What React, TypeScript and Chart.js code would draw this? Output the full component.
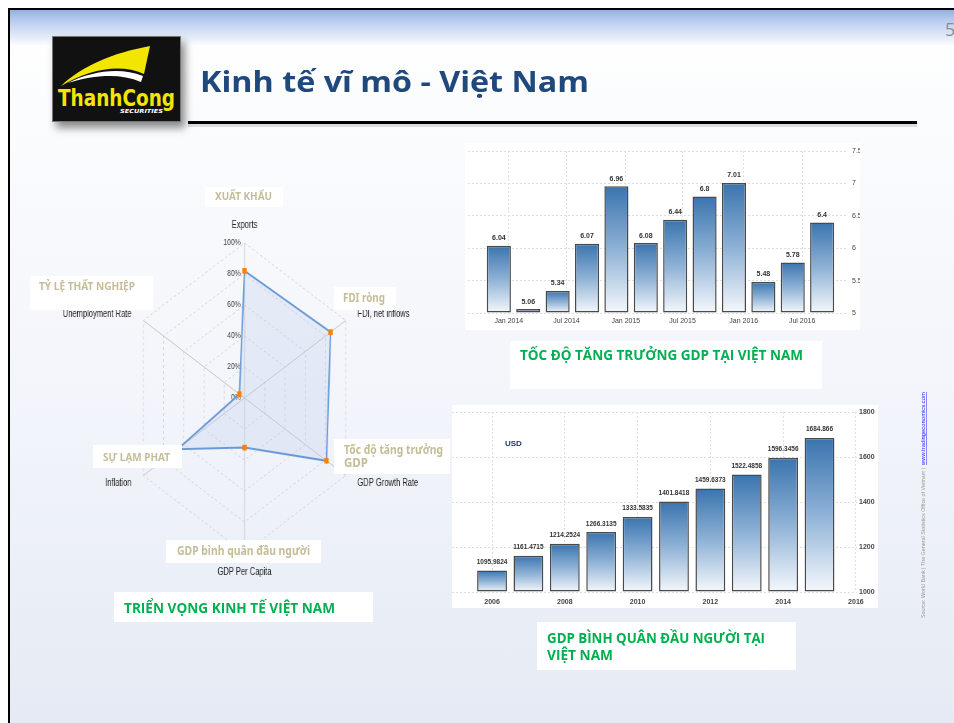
import React, { useEffect, useRef } from 'react';
import { Chart, registerables } from 'chart.js';
Chart.register(...registerables);

// ---- GDP growth (quarterly, %) ----
const growthQuarters = ['Q4 2013', 'Q1 2014', 'Q2 2014', 'Q3 2014', 'Q4 2014', 'Q1 2015', 'Q2 2015', 'Q3 2015', 'Q4 2015', 'Q1 2016', 'Q2 2016', 'Q3 2016'];
const growthValues = [6.04, 5.06, 5.34, 6.07, 6.96, 6.08, 6.44, 6.8, 7.01, 5.48, 5.78, 6.4];
const growthTickValues = [0.34, 2.3, 4.32, 6.25, 8.33, 10.32];
const growthTickLabels = ['Jan 2014', 'Jul 2014', 'Jan 2015', 'Jul 2015', 'Jan 2016', 'Jul 2016'];
const growthYTicks = [5, 5.5, 6, 6.5, 7, 7.5];

// ---- GDP per capita (USD) ----
const capitaYears = ['2006', '2007', '2008', '2009', '2010', '2011', '2012', '2013', '2014', '2015'];
const capitaValues = [1095.9824, 1161.4715, 1214.2524, 1266.3135, 1333.5835, 1401.8418, 1459.6373, 1522.4858, 1596.3456, 1684.866];
const capitaTickValues = [0, 2, 4, 6, 8, 10];
const capitaTickLabels = ['2006', '2008', '2010', '2012', '2014', '2016'];
const capitaYTicks = [1000, 1200, 1400, 1600, 1800];

// ---- Radar (outlook, %) ----
const radarAxes = ['Exports', 'FDI, net inflows', 'GDP Growth Rate', 'GDP Per Capita', 'Inflation', 'Unemployment Rate'];
const radarValues = [82, 85, 81, 32, 66, 5];
const radarTicks = [0, 20, 40, 60, 80, 100];

const makeFill = (baseValue: number) => (ctx: any) => {
  const chart = ctx.chart;
  const ys = chart.scales && chart.scales.y;
  if (!ys || !ctx.parsed) return '#4a82bb';
  const top = ys.getPixelForValue(ctx.parsed.y);
  const bottom = ys.getPixelForValue(baseValue);
  if (!isFinite(top) || !isFinite(bottom) || bottom - top < 1) return '#5a8cc0';
  const g = chart.ctx.createLinearGradient(0, top, 0, bottom);
  g.addColorStop(0, '#3a74ae');
  g.addColorStop(0.5, '#8fb2d6');
  g.addColorStop(1, '#f5f8fc');
  return g;
};

const valueLabels = {
  id: 'valueLabels',
  afterDatasetsDraw(chart: any, _args: any, opts: any) {
    const { ctx } = chart;
    const meta = chart.getDatasetMeta(0);
    const data = chart.data.datasets[0].data;
    ctx.save();
    ctx.font = opts.font;
    ctx.fillStyle = opts.color;
    ctx.textAlign = 'center';
    ctx.textBaseline = 'bottom';
    meta.data.forEach((el: any, i: number) => {
      const d = data[i];
      const v = typeof d === 'object' ? d.y : d;
      ctx.fillText(String(v), el.x, el.y - opts.offset);
    });
    ctx.restore();
  },
};

const radarText = {
  id: 'radarText',
  beforeDatasetsDraw(chart: any) {
    const r = chart.scales.r;
    const ctx = chart.ctx;
    ctx.save();
    ctx.font = '9px "Liberation Sans", Arial, sans-serif';
    ctx.fillStyle = '#444';
    ctx.textAlign = 'right';
    ctx.textBaseline = 'middle';
    radarTicks.forEach((v) => {
      const p = r.getPointPositionForValue(0, v);
      ctx.fillText(v + '%', p.x - 5, p.y);
    });
    ctx.restore();
  },
  afterDraw(chart: any) {
    const r = chart.scales.r;
    const ctx = chart.ctx;
    const aligns = ['center', 'left', 'left', 'center', 'right', 'right'];
    const dy = [0, 3, -1, 1, -1, 3];
    ctx.save();
    ctx.font = '10px "Liberation Sans", Arial, sans-serif';
    ctx.fillStyle = '#222';
    ctx.textBaseline = 'middle';
    chart.data.labels.forEach((lab: string, i: number) => {
      const p = r.getPointPosition(i, r.drawingArea + 18);
      ctx.textAlign = aligns[i];
      ctx.fillText(lab, p.x, p.y + dy[i]);
    });
    ctx.restore();
  },
};

function barChartConfig(opts: {
  values: number[];
  labels: string[];
  base: number;
  xMin: number;
  xMax: number;
  xTicks: number[];
  xTickLabels: string[];
  yTicks: number[];
  padTop: number;
  padLeft: number;
  yWidth: number;
  xHeight: number;
  xFont: any;
  yFont: any;
  xPad: number;
  yPad: number;
  labelFont: string;
  labelOffset: number;
}): any {
  const yMin = opts.yTicks[0];
  const yMax = opts.yTicks[opts.yTicks.length - 1];
  return {
    type: 'bar',
    data: {
      labels: opts.labels,
      datasets: [
        {
          data: opts.values.map((v, i) => ({ x: i, y: v })),
          base: opts.base,
          backgroundColor: makeFill(opts.base),
          borderColor: '#4a4a4a',
          borderWidth: 1.5,
          borderSkipped: false,
          categoryPercentage: 1,
          barPercentage: 0.82,
          clip: 4,
        },
      ],
    },
    options: {
      responsive: false,
      animation: false,
      maintainAspectRatio: false,
      layout: { padding: { top: opts.padTop, left: opts.padLeft, right: 0, bottom: 0 } },
      plugins: {
        legend: { display: false },
        tooltip: { enabled: false },
        valueLabels: { font: opts.labelFont, color: '#333', offset: opts.labelOffset },
      },
      scales: {
        x: {
          type: 'linear',
          min: opts.xMin,
          max: opts.xMax,
          offset: false,
          grid: { offset: false, color: '#dedede', drawTicks: false, borderDash: [2, 2] },
          border: { display: false, dash: [2, 2] },
          afterBuildTicks: (s: any) => {
            s.ticks = opts.xTicks.map((v) => ({ value: v }));
          },
          afterFit: (s: any) => {
            s.height = opts.xHeight;
          },
          ticks: {
            autoSkip: false,
            maxRotation: 0,
            padding: opts.xPad,
            color: '#444',
            font: opts.xFont,
            callback: (_v: any, i: number) => opts.xTickLabels[i],
          },
        },
        y: {
          position: 'right',
          min: yMin,
          max: yMax,
          grid: { color: '#dedede', drawTicks: false, borderDash: [2, 2] },
          border: { display: false, dash: [2, 2] },
          afterBuildTicks: (s: any) => {
            s.ticks = opts.yTicks.map((v) => ({ value: v }));
          },
          afterFit: (s: any) => {
            s.width = opts.yWidth;
          },
          ticks: {
            padding: opts.yPad,
            color: '#444',
            font: opts.yFont,
            callback: (v: any) => String(v),
          },
        },
      },
    },
    plugins: [valueLabels],
  };
}

function useChart(ref: React.RefObject<HTMLCanvasElement>, makeConfig: () => any) {
  useEffect(() => {
    if (!ref.current) return;
    const chart = new Chart(ref.current, makeConfig());
    return () => chart.destroy();
  }, []);
}

const FONT = '"Liberation Sans", Arial, sans-serif';

export default function App() {
  const growthRef = useRef<HTMLCanvasElement>(null);
  const capitaRef = useRef<HTMLCanvasElement>(null);
  const radarRef = useRef<HTMLCanvasElement>(null);

  useChart(growthRef, () =>
    barChartConfig({
      values: growthValues,
      labels: growthQuarters,
      base: 5,
      xMin: -1.05,
      xMax: 11.88,
      xTicks: growthTickValues,
      xTickLabels: growthTickLabels,
      yTicks: growthYTicks,
      padTop: 7,
      padLeft: 3,
      yWidth: 12,
      xHeight: 17,
      xFont: { family: FONT, size: 7 },
      yFont: { family: FONT, size: 7 },
      xPad: 4,
      yPad: 4,
      labelFont: 'bold 7px ' + FONT,
      labelOffset: 4,
    })
  );

  useChart(capitaRef, () =>
    barChartConfig({
      values: capitaValues,
      labels: capitaYears,
      base: 1000,
      xMin: -1.1,
      xMax: 10.03,
      xTicks: capitaTickValues,
      xTickLabels: capitaTickLabels,
      yTicks: capitaYTicks,
      padTop: 7,
      padLeft: 0,
      yWidth: 21,
      xHeight: 16,
      xFont: { family: FONT, size: 7, weight: 'bold' },
      yFont: { family: FONT, size: 7, weight: 'bold' },
      xPad: 6,
      yPad: 2,
      labelFont: 'bold 6.5px ' + FONT,
      labelOffset: 5,
    })
  );

  useChart(radarRef, () => ({
    type: 'radar',
    data: {
      labels: radarAxes,
      datasets: [
        {
          data: radarValues,
          borderColor: '#6a9bd8',
          borderWidth: 2,
          backgroundColor: 'rgba(185,200,235,0.28)',
          fill: true,
          tension: 0,
          pointStyle: 'rect',
          pointRadius: 4,
          pointBorderWidth: 0,
          pointBackgroundColor: '#ff7f00',
        },
      ],
    },
    options: {
      responsive: false,
      animation: false,
      maintainAspectRatio: false,
      layout: { padding: { top: 45, bottom: 45, left: 95, right: 95 } },
      plugins: { legend: { display: false }, tooltip: { enabled: false } },
      scales: {
        r: {
          min: 0,
          max: 100,
          ticks: { display: false, stepSize: 20 },
          pointLabels: { display: false },
          grid: { color: '#d4d4d4', lineWidth: 1 },
          border: { dash: [3, 3] },
          angleLines: { color: '#c6c6c6', lineWidth: 1 },
        },
      },
    },
    plugins: [radarText],
  }));

  const abs = (l: number, t: number, w: number, h: number, extra: any = {}) => ({
    position: 'absolute' as const,
    left: l,
    top: t,
    width: w,
    height: h,
    ...extra,
  });

  const khaki = '#C4BD97';
  const green = '#00B050';
  const khakiFont = '"Noto Sans", "Open Sans", sans-serif';
  const greenFont = '"Open Sans", "Noto Sans", sans-serif';

  return (
    <div style={{ position: 'fixed', left: 0, top: 0, width: 954, height: 723, overflow: 'hidden', background: '#fff' }}>
      {/* slide */}
      <div
        style={abs(8, 8, 1000, 800, {
          borderLeft: '2px solid #000',
          borderTop: '2px solid #000',
          background: 'linear-gradient(180deg, #ffffff 0px, #fafbfd 140px, #f1f4fa 420px, #e5eaf4 715px, #e3e9f4 800px)',
        })}
      />
      {/* header band */}
      <div
        style={abs(10, 10, 950, 36, {
          background: 'linear-gradient(180deg, #92b0e0 0px, #a9c1ea 6px, #bccff0 12px, #d2def4 20px, #e6edf9 28px, rgba(255,255,255,0) 36px)',
        })}
      />
      {/* logo */}
      <div style={abs(52, 36, 129, 86, { background: '#111', boxShadow: '4px 6px 8px rgba(0,0,0,0.45)', border: '1px solid #777', boxSizing: 'border-box' })}>
        <svg width={129} height={86} viewBox="0 0 129 86" style={{ position: 'absolute', left: -1, top: -1 }}>
          <path d="M9,50 C30,30 60,17 98,10 L92,38 C68,27 38,33 9,50 Z" fill="#f2e600" />
          <path d="M16,47 C40,35 68,31 91,40 L89,46 C68,37 42,39 16,47 Z" fill="#ffffff" />
          <text x={6} y={70} fontFamily='"DejaVu Sans", sans-serif' fontWeight="bold" fontSize={23} fill="#f2e600" textLength={117} lengthAdjust="spacingAndGlyphs">
            ThanhCong
          </text>
          <text x={68} y={77} fontFamily='"DejaVu Sans", sans-serif' fontWeight="bold" fontStyle="italic" fontSize={5.5} fill="#ffffff" textLength={43} lengthAdjust="spacingAndGlyphs">
            SECURITIES
          </text>
        </svg>
      </div>

      {/* top-right chart */}
      <div style={abs(465, 143, 395, 187, { background: '#fff' })}>
        <canvas ref={growthRef} width={395} height={187} style={{ width: 395, height: 187, display: 'block' }} />
      </div>

      {/* bottom-right chart */}
      <div style={abs(452, 405, 426, 203, { background: '#fff' })}>
        <canvas ref={capitaRef} width={426} height={203} style={{ width: 426, height: 203, display: 'block' }} />
      </div>

      {/* radar chart (horizontally compressed like the source picture) */}
      <div style={abs(55.5, 198, 500, 400, { transform: 'scaleX(0.754)', transformOrigin: '0 0' })}>
        <canvas ref={radarRef} width={500} height={400} style={{ width: 500, height: 400, display: 'block' }} />
      </div>

      {/* overlay texts */}
      <svg width={954} height={723} style={{ position: 'absolute', left: 0, top: 0, pointerEvents: 'none' }}>
        {/* title + rule */}
        <text x={200} y={92} fontFamily='"Open Sans", "Noto Sans", sans-serif' fontWeight="bold" fontSize={29} fill="#1F497D" textLength={389} lengthAdjust="spacingAndGlyphs">
          Kinh tế vĩ mô - Việt Nam
        </text>
        <rect x={188} y={124} width={729} height={3} fill="rgba(0,0,0,0.12)" />
        <rect x={188} y={121} width={729} height={3} fill="#000" />
        <text x={945} y={36} fontFamily={greenFont} fontSize={18} fill="#8c8c8c">5</text>

        {/* USD */}
        <text x={505} y={446} fontFamily={FONT} fontWeight="bold" fontSize={8} fill="#1f3a6e">USD</text>

        {/* radar axis captions */}
        <rect x={205} y={187} width={78} height={20} fill="#fff" />
        <text x={215} y={200} fontFamily={khakiFont} fontWeight="bold" fontSize={10} fill={khaki} textLength={57} lengthAdjust="spacingAndGlyphs">XUẤT KHẨU</text>

        <rect x={30} y={276} width={123} height={34} fill="#fff" />
        <text x={39} y={290} fontFamily={khakiFont} fontWeight="bold" fontSize={10} fill={khaki} textLength={96} lengthAdjust="spacingAndGlyphs">TỶ LỆ THẤT NGHIỆP</text>

        <rect x={334} y={287} width={62} height={23} fill="#fff" />
        <text x={343} y={302} fontFamily={khakiFont} fontWeight="bold" fontSize={12} fill={khaki} textLength={42} lengthAdjust="spacingAndGlyphs">FDI ròng</text>

        <rect x={93} y={445} width={89} height={23} fill="#fff" />
        <text x={103} y={461} fontFamily={khakiFont} fontWeight="bold" fontSize={10.5} fill={khaki} textLength={67} lengthAdjust="spacingAndGlyphs">SỰ LẠM PHAT</text>

        <rect x={334} y={439} width={116} height={35} fill="#fff" />
        <text x={344} y={454} fontFamily={khakiFont} fontWeight="bold" fontSize={11.5} fill={khaki} textLength={99} lengthAdjust="spacingAndGlyphs">Tốc độ tăng trưởng</text>
        <text x={344} y={467} fontFamily={khakiFont} fontWeight="bold" fontSize={11.5} fill={khaki} textLength={24} lengthAdjust="spacingAndGlyphs">GDP</text>

        <rect x={166} y={540} width={155} height={23} fill="#fff" />
        <text x={177} y={555} fontFamily={khakiFont} fontWeight="bold" fontSize={11.5} fill={khaki} textLength={133} lengthAdjust="spacingAndGlyphs">GDP bình quân đầu người</text>

        {/* green captions */}
        <rect x={510} y={341} width={312} height={48} fill="#fff" />
        <text x={520} y={360} fontFamily={greenFont} fontWeight="bold" fontSize={13.5} fill={green} textLength={283} lengthAdjust="spacingAndGlyphs">TỐC ĐỘ TĂNG TRƯỞNG GDP TẠI VIỆT NAM</text>

        <rect x={537} y={622} width={259} height={48} fill="#fff" />
        <text x={547} y={643} fontFamily={greenFont} fontWeight="bold" fontSize={13.5} fill={green} textLength={218} lengthAdjust="spacingAndGlyphs">GDP BÌNH QUÂN ĐẦU NGƯỜI TẠI</text>
        <text x={547} y={660} fontFamily={greenFont} fontWeight="bold" fontSize={13.5} fill={green} textLength={66} lengthAdjust="spacingAndGlyphs">VIỆT NAM</text>

        <rect x={114} y={592} width={259} height={30} fill="#fff" />
        <text x={124} y={613} fontFamily={greenFont} fontWeight="bold" fontSize={13.5} fill={green} textLength={211} lengthAdjust="spacingAndGlyphs">TRIỂN VỌNG KINH TẾ VIỆT NAM</text>

        {/* source (vertical) */}
        <g transform="translate(925,618) rotate(-90)">
          <text x={0} y={0} fontFamily={FONT} fontSize={5} fill="#9a9a9a" textLength={150} lengthAdjust="spacingAndGlyphs">
            Source: World Bank  |  The General Statistics Office of Vietnam  |
          </text>
          <text x={153} y={0} fontFamily={FONT} fontSize={5} fill="#1a1aff" textDecoration="underline" textLength={73} lengthAdjust="spacingAndGlyphs">
            www.tradingeconomics.com
          </text>
        </g>
      </svg>
    </div>
  );
}
